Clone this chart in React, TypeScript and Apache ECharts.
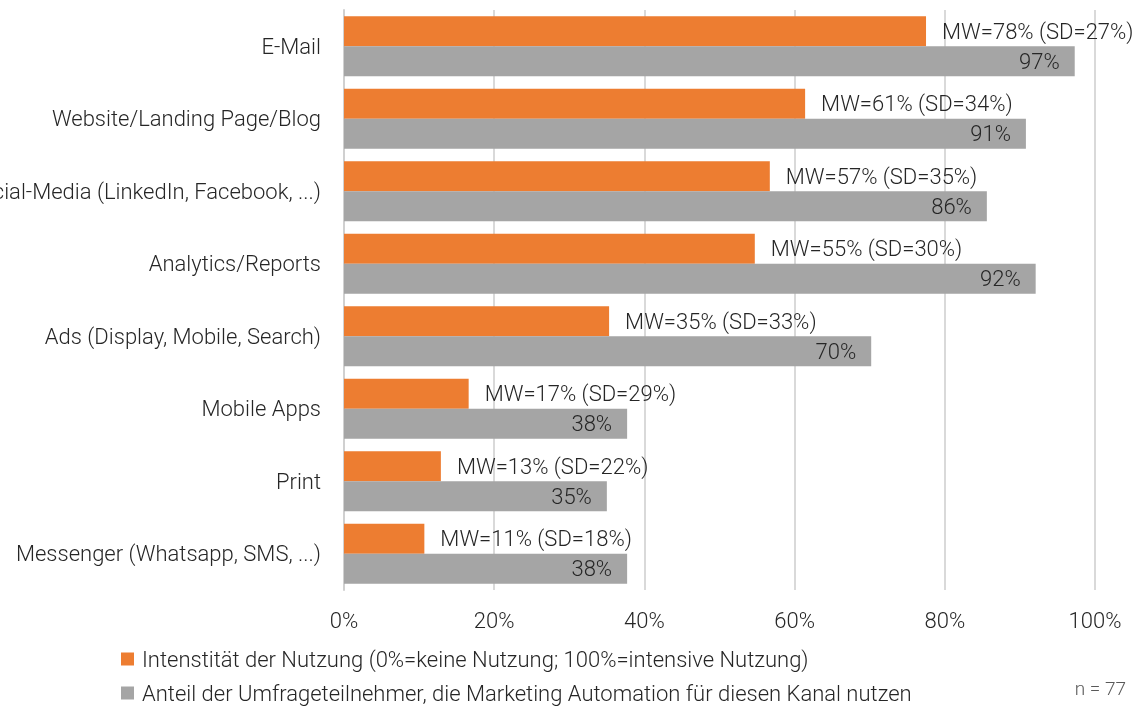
import React, { useEffect, useRef } from "react";
import * as echarts from "echarts";

const categories = [
  "E-Mail",
  "Website/Landing Page/Blog",
  "Social-Media (LinkedIn, Facebook, ...)",
  "Analytics/Reports",
  "Ads (Display, Mobile, Search)",
  "Mobile Apps",
  "Print",
  "Messenger (Whatsapp, SMS, ...)",
];
const intensity = [77.5, 61.4, 56.7, 54.7, 35.3, 16.6, 12.9, 10.7];
const mwLabels = [78, 61, 57, 55, 35, 17, 13, 11];
const sdLabels = [27, 34, 35, 30, 33, 29, 22, 18];
const share = [97.3, 90.8, 85.6, 92.1, 70.2, 37.7, 35.0, 37.7];
const shareLabels = [97, 91, 86, 92, 70, 38, 35, 38];
const xTicks = [0, 20, 40, 60, 80, 100];
const legendNames = [
  "Intenstität der Nutzung (0%=keine Nutzung; 100%=intensive Nutzung)",
  "Anteil der Umfrageteilnehmer, die Marketing Automation für diesen Kanal nutzen",
];

const FONT = "Roboto";
const TEXT = "#262626";
const FS = 22;

export default function App() {
  const ref = useRef<HTMLDivElement>(null);
  useEffect(() => {
    if (!ref.current) return;
    const chart = echarts.init(ref.current, undefined, { renderer: "svg" });
    chart.setOption({
      animation: false,
      textStyle: { fontFamily: FONT, fontWeight: 300 },
      grid: { left: 344, right: 45, top: 10, bottom: 116, outerBoundsMode: "none", containLabel: false },
      xAxis: {
        type: "value",
        min: xTicks[0],
        max: xTicks[xTicks.length - 1],
        interval: 20,
        axisLine: { show: false },
        axisTick: { show: false },
        splitLine: { lineStyle: { color: "#d9d9d9", width: 2 } },
        axisLabel: {
          formatter: "{value}%",
          fontSize: FS,
          color: TEXT,
          fontFamily: FONT,
          fontWeight: 300,
          margin: 19,
        },
      },
      yAxis: {
        type: "category",
        inverse: true,
        data: categories,
        axisLine: { show: true, lineStyle: { color: "#d0d0d0", width: 2 } },
        axisTick: { show: false },
        axisLabel: {
          fontSize: FS,
          color: TEXT,
          fontFamily: FONT,
          fontWeight: 300,
          margin: 23,
        },
      },
      legend: {
        orient: "vertical",
        left: 121,
        top: 648,
        height: 80,
        width: 1000,
        padding: 0,
        itemWidth: 13,
        itemHeight: 13,
        itemGap: 12,
        icon: "rect",
        textStyle: { fontSize: FS, color: TEXT, fontFamily: FONT, fontWeight: 300, padding: [0, 0, 0, 3] },
        data: legendNames,
      },
      series: [
        {
          name: legendNames[0],
          type: "bar",
          data: intensity,
          barWidth: 30,
          barGap: "0%",
          itemStyle: { color: "#ED7D31" },
          label: {
            show: true,
            position: "right",
            distance: 16,
            fontSize: FS,
            color: TEXT,
            fontFamily: FONT,
            fontWeight: 300,
            formatter: (p: any) => `MW=${mwLabels[p.dataIndex]}% (SD=${sdLabels[p.dataIndex]}%)`,
          },
        },
        {
          name: legendNames[1],
          type: "bar",
          data: share,
          barWidth: 30,
          barGap: "0%",
          itemStyle: { color: "#A5A5A5" },
          label: {
            show: true,
            position: "insideRight",
            distance: 15,
            fontSize: FS,
            color: TEXT,
            fontFamily: FONT,
            fontWeight: 300,
            formatter: (p: any) => `${shareLabels[p.dataIndex]}%`,
          },
        },
      ],
      graphic: [
        {
          type: "text",
          right: 14,
          top: 679,
          style: { text: "n = 77", fontSize: 19, fill: "#595959", fontFamily: FONT, fontWeight: 300 },
        },
      ],
    });
    return () => chart.dispose();
  }, []);
  return <div ref={ref} style={{ width: 1140, height: 706, position: "fixed", left: 0, top: 0 }} />;
}
